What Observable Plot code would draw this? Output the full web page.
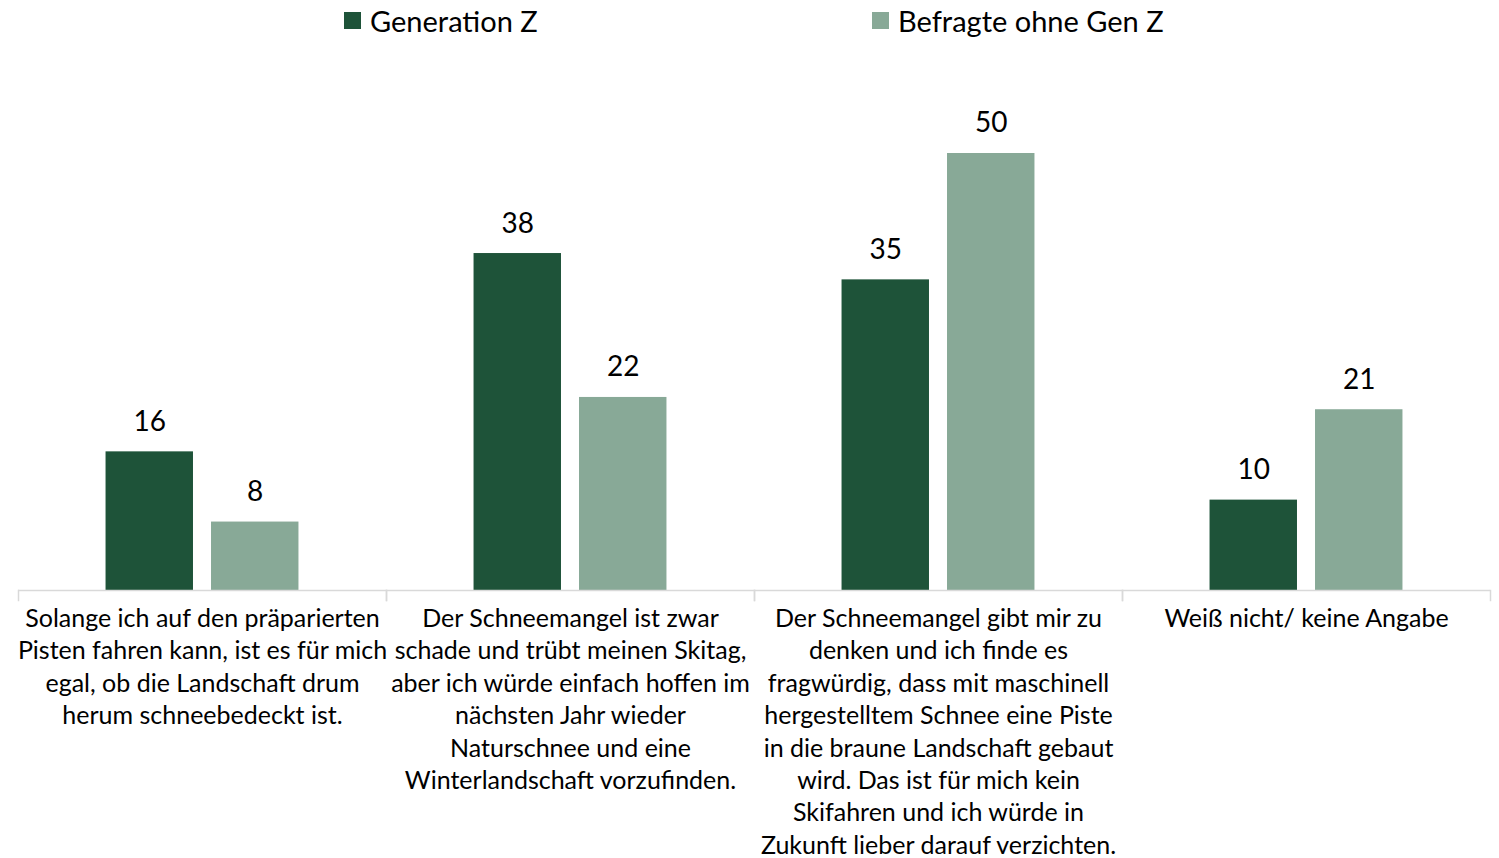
<!DOCTYPE html>
<html><head><meta charset="utf-8">
<script src="https://cdn.jsdelivr.net/npm/d3@7"></script>
<script src="https://cdn.jsdelivr.net/npm/@observablehq/plot@0.6"></script>
<style>
body{margin:0;background:#fff;font-family:Lato,sans-serif;}
#legend{position:relative;height:42px;width:1499px;}
.item{position:absolute;top:0;display:flex;align-items:center;height:41px;font-size:29px;color:#000;white-space:nowrap;}
.sw{width:17px;height:17px;margin-right:9px;}
</style></head><body>
<div id="legend"></div><div id="chart"></div>
<script>
const categories = ["A", "B", "C", "D"];
const categoryLabels = [
  "Solange ich auf den präparierten\nPisten fahren kann, ist es für mich\negal, ob die Landschaft drum\nherum schneebedeckt ist.",
  "Der Schneemangel ist zwar\nschade und trübt meinen Skitag,\naber ich würde einfach hoffen im\nnächsten Jahr wieder\nNaturschnee und eine\nWinterlandschaft vorzufinden.",
  "Der Schneemangel gibt mir zu\ndenken und ich finde es\nfragwürdig, dass mit maschinell\nhergestelltem Schnee eine Piste\nin die braune Landschaft gebaut\nwird. Das ist für mich kein\nSkifahren und ich würde in\nZukunft lieber darauf verzichten.",
  "Weiß nicht/ keine Angabe"
];
const series = ["Generation Z", "Befragte ohne Gen Z"];
const genZ = [15.8, 38.4, 35.4, 10.3];
const ohneGenZ = [7.8, 22.0, 49.8, 20.6];
const colors = ["#1e5339", "#88a997"];

const data = [];
categories.forEach((c, i) => {
  data.push({category: c, series: series[0], value: genZ[i]});
  data.push({category: c, series: series[1], value: ohneGenZ[i]});
});

// legend
const legend = document.getElementById("legend");
const legendLeft = [344, 872];
series.forEach((s, i) => {
  const it = document.createElement("div");
  it.className = "item";
  it.style.left = legendLeft[i] + "px";
  it.innerHTML = `<span class="sw" style="background:${colors[i]}"></span><span>${s}</span>`;
  legend.appendChild(it);
});

const plotH = 437;
const chart = Plot.plot({
  width: 1499,
  height: 816,
  marginLeft: 18,
  marginRight: 9,
  marginTop: 111,
  marginBottom: 268,
  fx: {domain: categories, padding: 0, axis: null},
  x: {domain: series, paddingInner: 0.171, paddingOuter: 0.83, round: false, axis: null},
  y: {domain: [0, d3.max(ohneGenZ.concat(genZ))], axis: null},
  color: {domain: series, range: colors},
  style: {fontFamily: "Lato, sans-serif", background: "#fff", color: "#000"},
  marks: [
    Plot.barY(data, {fx: "category", x: "series", y: "value", fill: "series"}),
    Plot.text(data, {fx: "category", x: "series", y: "value", text: d => String(Math.round(d.value)), dy: -30, fontSize: 28, fill: "#000"}),
    Plot.ruleY([0], {stroke: "#d9d9d9", strokeWidth: 1.5}),
    Plot.frame({anchor: "left", stroke: "#d9d9d9", strokeWidth: 1.5, insetTop: plotH, insetBottom: -10}),
    Plot.frame({anchor: "right", stroke: "#d9d9d9", strokeWidth: 1.5, insetTop: plotH, insetBottom: -10}),
    Plot.text(categories, {fx: d => d, text: (d, i) => categoryLabels[i], frameAnchor: "bottom", lineAnchor: "top", dy: 13.5, fontSize: 25, lineHeight: 1.296, fill: "#000"})
  ]
});
document.getElementById("chart").appendChild(chart);
</script>
</body></html>
